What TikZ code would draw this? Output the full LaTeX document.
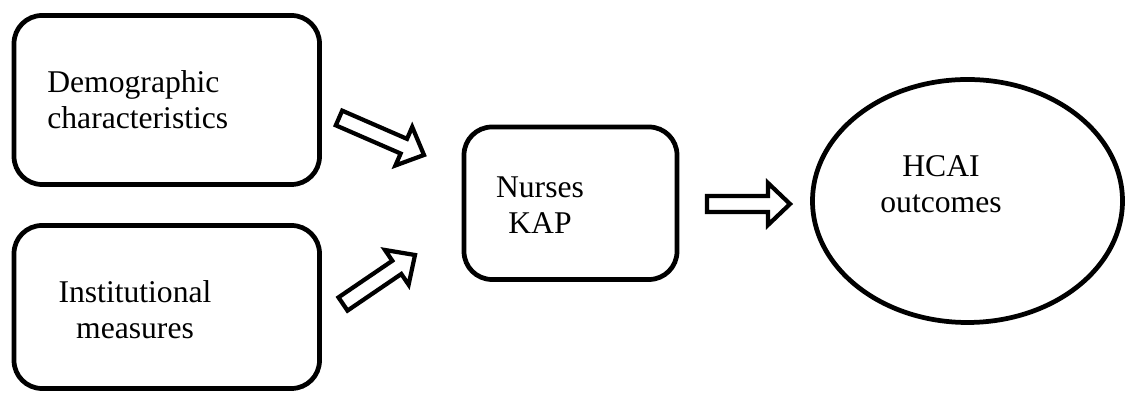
\documentclass[tikz,border=0pt]{standalone}
\usepackage{fontspec}
\setmainfont{Liberation Serif}
\usetikzlibrary{shapes.geometric,calc}

\tikzset{
  roundbox/.style={draw, line width=2.7pt, rounded corners=0.56cm, inner sep=0pt},
  oval/.style={draw, ellipse, line width=2.7pt, inner sep=0pt},
  txt/.style={align=center, font=\fontsize{18}{20.5}\selectfont, inner sep=0pt},
  fatline/.style={draw, line width=2.4pt, fill=white}
}

% hollow block arrow from #1 (tail) to #2 (tip)
\newcommand{\fatarrow}[2]{%
  \coordinate (hb) at ($(#2)!0.44cm!(#1)$);
  \draw[fatline] ($(#1)!0.16cm!90:(#2)$) -- ($(hb)!0.16cm!90:(#2)$) -- ($(hb)!0.42cm!90:(#2)$) -- (#2)
    -- ($(hb)!0.42cm!-90:(#2)$) -- ($(hb)!0.16cm!-90:(#2)$) -- ($(#1)!0.16cm!-90:(#2)$) -- cycle;}

\begin{document}
\begin{tikzpicture}
	\useasboundingbox (0,0) rectangle (22.54,7.86);
	
	% boxes
	\node[roundbox, minimum width=6.11cm, minimum height=3.38cm] (demo) at (3.335,5.86) {};
	\node[roundbox, minimum width=6.11cm, minimum height=3.26cm] (inst) at (3.335,1.72) {};
	\node[roundbox, minimum width=4.26cm, minimum height=3.05cm] (kap) at (11.41,3.795) {};
	\node[oval, minimum width=6.2cm, minimum height=4.86cm] (hcai) at (19.35,3.84) {};
	
	% texts (set a little off the centres, as in the original)
	\node[txt, align=left, anchor=west] (demo-t) at (0.94,5.86) {Demographic\\characteristics};
	\node[txt] (inst-t) at (2.70,1.66) {Institutional\\measures};
	\node[txt] (kap-t) at (10.8,3.76) {Nurses\\KAP};
	\node[txt] (hcai-t) at (18.82,4.17) {HCAI\\outcomes};
	
	% block arrows
	\coordinate (a1) at (6.78,5.50); \coordinate (b1) at (8.48,4.76);
	\coordinate (a2) at (6.86,1.78); \coordinate (b2) at (8.30,2.76);
	\coordinate (a3) at (14.14,3.78); \coordinate (b3) at (15.80,3.78);
	\fatarrow{a1}{b1}
	\fatarrow{a2}{b2}
	\fatarrow{a3}{b3}
	
\end{tikzpicture}
\end{document}
